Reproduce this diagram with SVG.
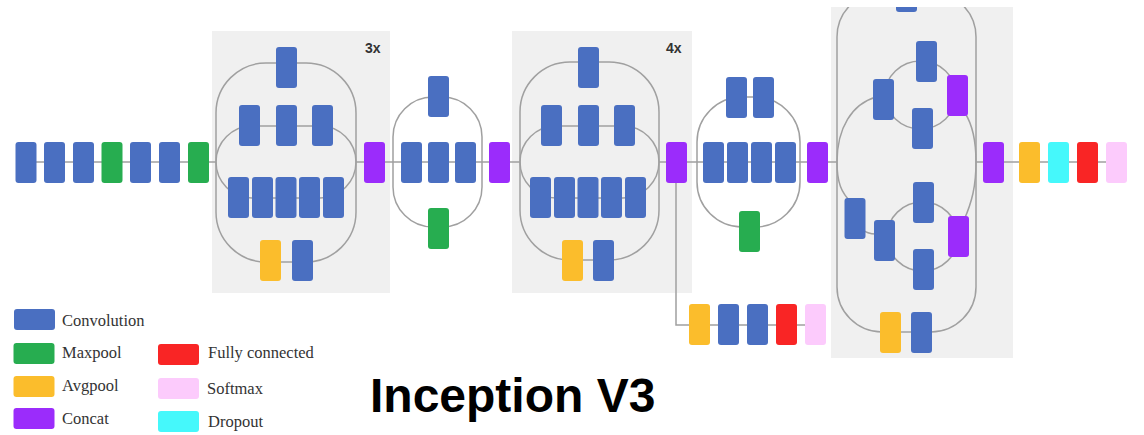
<svg xmlns="http://www.w3.org/2000/svg" width="1144" height="435" viewBox="0 0 1144 435">
  <style>
    .panel { fill: #f0f0f0; }
    .link { fill: none; stroke: #a0a0a0; stroke-width: 1.5; }
    .conv { fill: #4a6fc1; }
    .maxp { fill: #27ad50; }
    .avgp { fill: #fbbd2c; }
    .cat  { fill: #9b2cfb; }
    .fc   { fill: #f92525; }
    .soft { fill: #fccbfc; }
    .drop { fill: #45f8fb; }
    .mult { font-family: "Liberation Sans", Arial, sans-serif; font-size: 14px; font-weight: bold; fill: #333; }
    .lg   { font-family: "Liberation Serif", "Times New Roman", serif; font-size: 16.5px; fill: #333; }
    .title { font-family: "Liberation Sans", Arial, sans-serif; font-size: 48px; font-weight: bold; fill: #000; }
  </style>
  <defs>
    <rect id="blk" width="21" height="41" rx="3"/>
    <rect id="sw" width="41" height="21" rx="3"/>
    <clipPath id="clipTop"><rect x="0" y="7" width="1144" height="428"/></clipPath>
  </defs>

  <!-- repeated-module panels -->
  <rect class="panel" x="212" y="31" width="178" height="262"/>
  <rect class="panel" x="512" y="31" width="180" height="262"/>
  <rect class="panel" x="831" y="7" width="182" height="351"/>
  <text class="mult" x="365" y="53">3x</text>
  <text class="mult" x="666" y="53">4x</text>

  <!-- connectors -->
  <g id="connectors">
    <path class="link" d="M26 162H216M356 162H520M659 162H837M976 162H1116"/>
    <path class="link" d="M676 183V325H815"/>
    <!-- module A (x3) -->
    <rect class="link" x="216" y="63" width="140" height="199" rx="50"/>
    <rect class="link" x="216" y="126" width="140" height="72" rx="36"/>
    <!-- reduction A -->
    <rect class="link" x="393" y="97" width="89" height="130" rx="40"/>
    <!-- module B (x4) -->
    <rect class="link" x="520" y="62" width="139" height="198" rx="50"/>
    <rect class="link" x="520" y="126" width="139" height="72" rx="36"/>
    <!-- reduction B -->
    <rect class="link" x="697" y="97" width="103" height="130" rx="45"/>
    <!-- module C -->
    <rect class="link" x="837" y="-8" width="139" height="340" rx="45" clip-path="url(#clipTop)"/>
    <path class="link" d="M876 97C852 104 837 128 837 162C837 182 841 193 852 203"/>
    <path class="link" d="M965 113C972 124 976 140 976 162C976 186 972 202 964 220"/>
    <ellipse class="link" cx="920.5" cy="95" rx="35.5" ry="34"/>
    <ellipse class="link" cx="922.5" cy="236.5" rx="35.5" ry="34.5"/>
    <path class="link" d="M862 229Q867 234 876 234"/>
  </g>

  <!-- stem -->
  <g id="stem-conv1"><use href="#blk" class="conv" x="15.5" y="142"/></g>
  <g id="stem-conv2"><use href="#blk" class="conv" x="44" y="142"/></g>
  <g id="stem-conv3"><use href="#blk" class="conv" x="73" y="142"/></g>
  <g id="stem-pool1"><use href="#blk" class="maxp" x="101.5" y="142"/></g>
  <g id="stem-conv4"><use href="#blk" class="conv" x="130" y="142"/></g>
  <g id="stem-conv5"><use href="#blk" class="conv" x="159" y="142"/></g>
  <g id="stem-pool2"><use href="#blk" class="maxp" x="188" y="142"/></g>

  <!-- module A -->
  <g id="a-b1-conv"><use href="#blk" class="conv" x="276" y="47"/></g>
  <g id="a-b2-conv1"><use href="#blk" class="conv" x="239" y="105"/></g>
  <g id="a-b2-conv2"><use href="#blk" class="conv" x="276" y="105"/></g>
  <g id="a-b2-conv3"><use href="#blk" class="conv" x="312" y="105"/></g>
  <g id="a-b3-conv1"><use href="#blk" class="conv" x="228" y="177"/></g>
  <g id="a-b3-conv2"><use href="#blk" class="conv" x="252" y="177"/></g>
  <g id="a-b3-conv3"><use href="#blk" class="conv" x="275.5" y="177"/></g>
  <g id="a-b3-conv4"><use href="#blk" class="conv" x="299" y="177"/></g>
  <g id="a-b3-conv5"><use href="#blk" class="conv" x="323" y="177"/></g>
  <g id="a-b4-avg"><use href="#blk" class="avgp" x="260" y="240"/></g>
  <g id="a-b4-conv"><use href="#blk" class="conv" x="292" y="240"/></g>
  <g id="a-concat"><use href="#blk" class="cat" x="364" y="142"/></g>

  <!-- reduction A -->
  <g id="ra-conv-top"><use href="#blk" class="conv" x="428" y="76"/></g>
  <g id="ra-conv1"><use href="#blk" class="conv" x="401" y="142"/></g>
  <g id="ra-conv2"><use href="#blk" class="conv" x="428" y="142"/></g>
  <g id="ra-conv3"><use href="#blk" class="conv" x="455" y="142"/></g>
  <g id="ra-pool"><use href="#blk" class="maxp" x="428" y="208"/></g>
  <g id="ra-concat"><use href="#blk" class="cat" x="489" y="142"/></g>

  <!-- module B -->
  <g id="b-b1-conv"><use href="#blk" class="conv" x="578" y="47"/></g>
  <g id="b-b2-conv1"><use href="#blk" class="conv" x="541" y="105"/></g>
  <g id="b-b2-conv2"><use href="#blk" class="conv" x="578" y="105"/></g>
  <g id="b-b2-conv3"><use href="#blk" class="conv" x="614" y="105"/></g>
  <g id="b-b3-conv1"><use href="#blk" class="conv" x="530" y="177"/></g>
  <g id="b-b3-conv2"><use href="#blk" class="conv" x="554" y="177"/></g>
  <g id="b-b3-conv3"><use href="#blk" class="conv" x="577.5" y="177"/></g>
  <g id="b-b3-conv4"><use href="#blk" class="conv" x="601" y="177"/></g>
  <g id="b-b3-conv5"><use href="#blk" class="conv" x="625" y="177"/></g>
  <g id="b-b4-avg"><use href="#blk" class="avgp" x="562" y="240"/></g>
  <g id="b-b4-conv"><use href="#blk" class="conv" x="593" y="240"/></g>
  <g id="b-concat"><use href="#blk" class="cat" x="666" y="142"/></g>

  <!-- auxiliary classifier -->
  <g id="aux-avg"><use href="#blk" class="avgp" x="689" y="304"/></g>
  <g id="aux-conv1"><use href="#blk" class="conv" x="718" y="304"/></g>
  <g id="aux-conv2"><use href="#blk" class="conv" x="747" y="304"/></g>
  <g id="aux-fc"><use href="#blk" class="fc" x="776" y="304"/></g>
  <g id="aux-softmax"><use href="#blk" class="soft" x="805" y="304"/></g>

  <!-- reduction B -->
  <g id="rb-conv-t1"><use href="#blk" class="conv" x="726" y="77"/></g>
  <g id="rb-conv-t2"><use href="#blk" class="conv" x="753" y="77"/></g>
  <g id="rb-conv1"><use href="#blk" class="conv" x="703" y="142"/></g>
  <g id="rb-conv2"><use href="#blk" class="conv" x="727" y="142"/></g>
  <g id="rb-conv3"><use href="#blk" class="conv" x="751" y="142"/></g>
  <g id="rb-conv4"><use href="#blk" class="conv" x="775" y="142"/></g>
  <g id="rb-pool"><use href="#blk" class="maxp" x="739" y="211"/></g>
  <g id="rb-concat"><use href="#blk" class="cat" x="807" y="142"/></g>

  <!-- module C -->
  <g id="c-b1-conv" clip-path="url(#clipTop)"><use href="#blk" class="conv" x="896" y="-29"/></g>
  <g id="c-b2-conv"><use href="#blk" class="conv" x="873" y="79"/></g>
  <g id="c-b2-conv-up"><use href="#blk" class="conv" x="916" y="41"/></g>
  <g id="c-b2-conv-dn"><use href="#blk" class="conv" x="912" y="108"/></g>
  <g id="c-b2-concat"><use href="#blk" class="cat" x="947" y="75"/></g>
  <g id="c-b3-conv1"><use href="#blk" class="conv" x="844.5" y="198"/></g>
  <g id="c-b3-conv2"><use href="#blk" class="conv" x="874" y="220"/></g>
  <g id="c-b3-conv-up"><use href="#blk" class="conv" x="913" y="182"/></g>
  <g id="c-b3-conv-dn"><use href="#blk" class="conv" x="913" y="249"/></g>
  <g id="c-b3-concat"><use href="#blk" class="cat" x="948" y="216"/></g>
  <g id="c-b4-avg"><use href="#blk" class="avgp" x="880" y="312"/></g>
  <g id="c-b4-conv"><use href="#blk" class="conv" x="911" y="312"/></g>
  <g id="c-concat"><use href="#blk" class="cat" x="983" y="142"/></g>

  <!-- head -->
  <g id="head-avg"><use href="#blk" class="avgp" x="1019" y="142"/></g>
  <g id="head-dropout"><use href="#blk" class="drop" x="1048" y="142"/></g>
  <g id="head-fc"><use href="#blk" class="fc" x="1077" y="142"/></g>
  <g id="head-softmax"><use href="#blk" class="soft" x="1106" y="142"/></g>

  <!-- legend -->
  <g id="legend">
    <use href="#sw" class="conv" x="14" y="309"/>
    <text class="lg" x="62" y="326">Convolution</text>
    <use href="#sw" class="maxp" x="13.5" y="343"/>
    <text class="lg" x="62" y="357.5">Maxpool</text>
    <use href="#sw" class="avgp" x="13.5" y="376"/>
    <text class="lg" x="62" y="390.5">Avgpool</text>
    <use href="#sw" class="cat" x="13.5" y="408"/>
    <text class="lg" x="62" y="423.5">Concat</text>
    <use href="#sw" class="fc" x="158" y="344"/>
    <text class="lg" x="208" y="357.5">Fully connected</text>
    <use href="#sw" class="soft" x="158" y="378"/>
    <text class="lg" x="207" y="393.5">Softmax</text>
    <use href="#sw" class="drop" x="158" y="411"/>
    <text class="lg" x="208" y="426.5">Dropout</text>
  </g>

  <text class="title" x="370" y="412">Inception V3</text>
</svg>
